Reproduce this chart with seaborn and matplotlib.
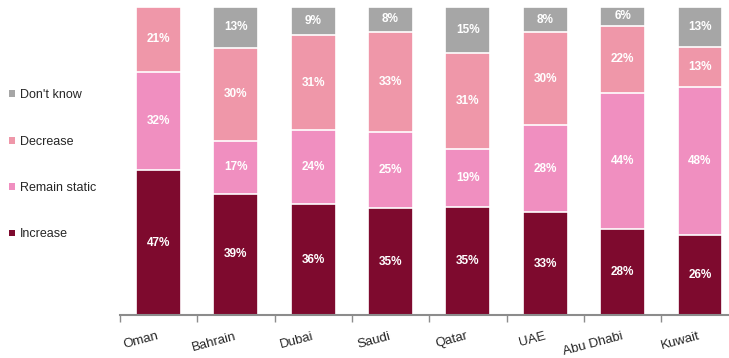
import matplotlib.pyplot as plt
import numpy as np
import pandas as pd
import seaborn as sns
from matplotlib.patches import Patch

sns.set_style('white')
plt.rcParams['font.family'] = ['Liberation Sans', 'DejaVu Sans']

regions = ['Oman', 'Bahrain', 'Dubai', 'Saudi', 'Qatar', 'UAE', 'Abu Dhabi', 'Kuwait']
increase = [47, 39, 36, 35, 35, 33, 28, 26]
remain_static = [32, 17, 24, 25, 19, 28, 44, 48]
decrease = [21, 30, 31, 33, 31, 30, 22, 13]
dont_know = [0, 13, 9, 8, 15, 8, 6, 13]

series = ['Increase', 'Remain static', 'Decrease', "Don't know"]
colors = {
    'Increase': '#7E0A2E',
    'Remain static': '#F08FC0',
    'Decrease': '#EF97A9',
    "Don't know": '#A6A6A6',
}

data = pd.DataFrame({
    'region': regions,
    'Increase': increase,
    'Remain static': remain_static,
    'Decrease': decrease,
    "Don't know": dont_know,
})
# 100% stacked: scale each bar by its total
share = data[series].div(data[series].sum(axis=1), axis=0) * 100
cum = share.cumsum(axis=1)

fig = plt.figure(figsize=(7.29, 3.58), dpi=100)
ax = fig.add_axes([0.1643, 0.120, 0.849, 0.860])

# overlay cumulative totals, top layer first
for name in reversed(series):
    sns.barplot(
        x=data['region'], y=cum[name], color=colors[name],
        width=0.58, edgecolor='white', linewidth=1.2, saturation=1, ax=ax,
    )

# segment labels
for i in range(len(regions)):
    for name in series:
        value = data.loc[i, name]
        if value <= 0:
            continue
        center = cum.loc[i, name] - share.loc[i, name] / 2
        ax.text(i, center, f'{value}%', ha='center', va='center',
                color='white', fontsize=8.5, fontweight='bold')

ax.set_xlim(-0.5, len(regions) - 0.5)
ax.set_ylim(0, 100)
ax.set_xlabel('')
ax.set_ylabel('')
ax.set_yticks([])
for side in ['top', 'right', 'left']:
    ax.spines[side].set_visible(False)
ax.spines['bottom'].set_color('#8C8C8C')
ax.spines['bottom'].set_linewidth(1.5)

ax.set_xticks(range(len(regions)))
ax.set_xticklabels(regions, rotation=15, ha='right', va='center',
                   rotation_mode='anchor', fontsize=9.5)
ax.tick_params(axis='x', which='major', length=0, pad=15)
ax.set_xticks(np.arange(-0.5, len(regions), 1), minor=True)
ax.tick_params(axis='x', which='minor', length=5, width=1, color='#8C8C8C', bottom=True)

handles = [Patch(facecolor=colors[name], edgecolor='none') for name in reversed(series)]
fig.legend(
    handles, list(reversed(series)), loc='upper left', bbox_to_anchor=(-0.003, 0.782),
    frameon=False, fontsize=9, handlelength=0.45, handleheight=0.45,
    handletextpad=0.45, labelspacing=2.75,
)

fig.savefig('out.png', dpi=100)
